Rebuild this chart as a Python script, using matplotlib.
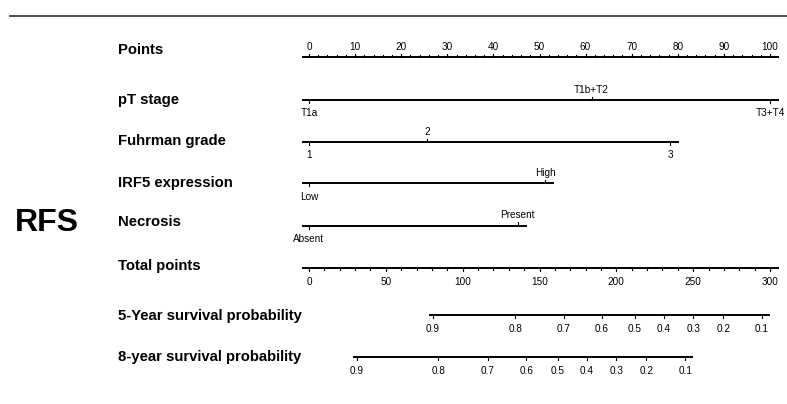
import matplotlib.pyplot as plt
import numpy as np

plt.rcParams['font.family'] = ['Liberation Sans', 'DejaVu Sans']

# nomogram data (points scale 0-100, total points 0-300)
points_major = np.arange(0, 101, 10)
points_minor = np.arange(0, 101, 2)

pt_labels = ["T1a", "T1b+T2", "T3+T4"]
pt_points = [0, 61.3, 100]

grade_labels = ["1", "2", "3"]
grade_points = [0, 25.7, 78.3]

irf5_labels = ["Low", "High"]
irf5_points = [0, 51.2]

necrosis_labels = ["Absent", "Present"]
necrosis_points = [0, 45.3]

total_major = np.arange(0, 301, 50)
total_minor = np.arange(0, 301, 10)

surv_probs = ["0.9", "0.8", "0.7", "0.6", "0.5", "0.4", "0.3", "0.2", "0.1"]
surv5_total = [80.4, 134.1, 165.9, 190.6, 212.0, 231.1, 250.0, 269.6, 294.6]
surv5_range = [78.7, 299.3]
surv8_total = [31.1, 84.1, 116.3, 141.3, 162.0, 180.9, 200.0, 219.6, 245.0]
surv8_range = [29.3, 249.0]

row_names = ["Points", "pT stage", "Fuhrman grade", "IRF5 expression", "Necrosis",
             "Total points", "5-Year survival probability", "8-year survival probability"]
row_y = [57, 100, 142, 183, 225.5, 268, 315, 357]
label_y = [50, 100, 141, 183, 222, 266, 316, 357]

TOT = 100 / 300.0  # total points -> points scale
px = 4.61          # pixels per point

fig = plt.figure(figsize=(7.87, 4.04), dpi=100)
ax = fig.add_axes([0, 0, 1, 1])
ax.set_xlim(-309 / px, (787 - 309) / px)
ax.set_ylim(404, 0)
ax.axis('off')

lw = 1.4
tk = 3.2  # tick length in y units (pixels)
ext = 1.4  # axis line extension in points
fs_tick = 7.2

ax.axhline(16, xmin=10 / 787, xmax=1, color='#333333', lw=1.2)

for name, y in zip(row_names, label_y):
    ax.text(-41.4, y, name, fontsize=10.7, fontweight='bold', va='center', ha='left')

ax.text(-56.8, 223, "RFS", fontsize=23, fontweight='bold', va='center', ha='center')

# Points axis
y = row_y[0]
ax.plot([-ext, 100 + ext * 1.3], [y, y], color='black', lw=lw)
for v in points_minor:
    ax.plot([v, v], [y, y - tk * 0.7], color='black', lw=0.8)
for v in points_major:
    ax.plot([v, v], [y, y - tk], color='black', lw=0.8)
    ax.text(v, y - 5.5, str(v), fontsize=fs_tick, ha='center', va='bottom')


def cat_axis(y, pts, labels):
    ax.plot([-ext, max(pts) + ext * 1.3], [y, y], color='black', lw=lw)
    for i, (v, lab) in enumerate(zip(pts, labels)):
        if i % 2 == 0:
            ax.plot([v, v], [y, y + tk], color='black', lw=0.8)
            ax.text(v, y + 8.5, lab, fontsize=fs_tick, ha='center', va='top')
        else:
            ax.plot([v, v], [y, y - tk], color='black', lw=0.8)
            ax.text(v, y - 5, lab, fontsize=fs_tick, ha='center', va='bottom')


cat_axis(row_y[1], pt_points, pt_labels)
cat_axis(row_y[2], grade_points, grade_labels)
cat_axis(row_y[3], irf5_points, irf5_labels)
cat_axis(row_y[4], necrosis_points, necrosis_labels)

# Total points axis
y = row_y[5]
ax.plot([-ext, 100 + ext * 1.3], [y, y], color='black', lw=lw)
for v in total_minor:
    ax.plot([v * TOT, v * TOT], [y, y + tk * 0.7], color='black', lw=0.8)
for v in total_major:
    ax.plot([v * TOT, v * TOT], [y, y + tk], color='black', lw=0.8)
    ax.text(v * TOT, y + 9, str(v), fontsize=fs_tick, ha='center', va='top')


def surv_axis(y, totals, rng):
    ax.plot([rng[0] * TOT, rng[1] * TOT], [y, y], color='black', lw=lw)
    for v, lab in zip(totals, surv_probs):
        ax.plot([v * TOT, v * TOT], [y, y + tk], color='black', lw=0.8)
        ax.text(v * TOT, y + 9, lab, fontsize=fs_tick, ha='center', va='top')


surv_axis(row_y[6], surv5_total, surv5_range)
surv_axis(row_y[7], surv8_total, surv8_range)

fig.savefig("out.png", dpi=100)
